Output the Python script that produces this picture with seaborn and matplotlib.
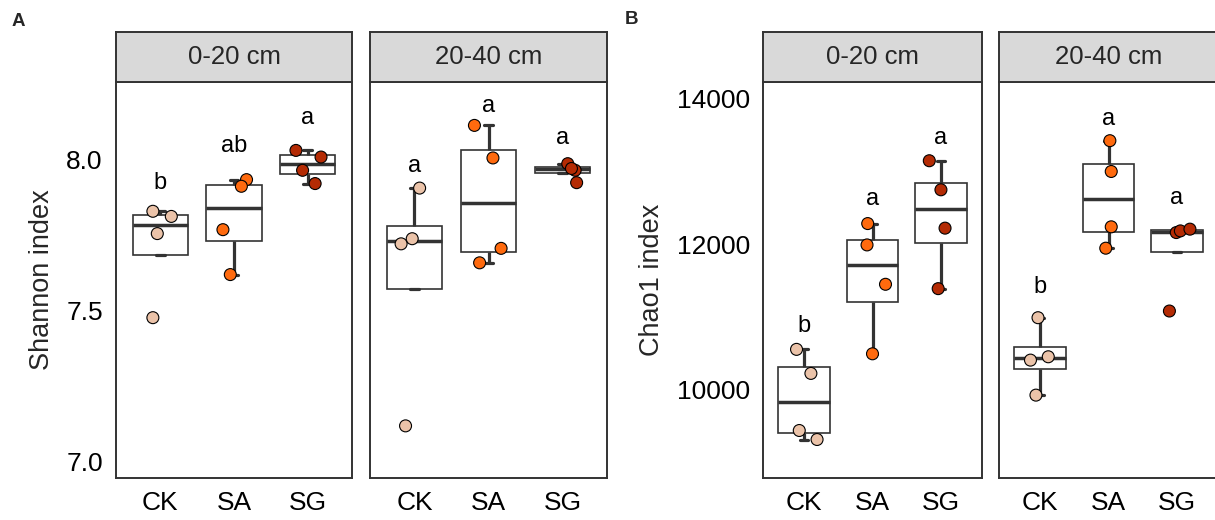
import numpy as np
import pandas as pd
import matplotlib
matplotlib.use("Agg")
import matplotlib.pyplot as plt
import seaborn as sns

treatments = ["CK", "SA", "SG"]
depths = ["0-20 cm", "20-40 cm"]
point_colors = {"CK": "#EBC3A9", "SA": "#FF6A0E", "SG": "#B42B04"}

# four replicates per treatment, in order CK, SA, SG
shannon_top = [7.829, 7.812, 7.755, 7.476,
               7.934, 7.912, 7.768, 7.619,
               8.031, 8.009, 7.965, 7.921]
shannon_sub = [7.906, 7.738, 7.721, 7.117,
               8.114, 8.006, 7.706, 7.658,
               7.987, 7.965, 7.924, 7.971]
chao1_top = [10552, 10221, 9435, 9311,
             12284, 11990, 11448, 10491,
             13149, 12749, 12221, 11388]
chao1_sub = [10988, 10450, 10404, 9922,
             13425, 13001, 12239, 11945,
             12160, 12183, 12207, 11080]

# horizontal jitter of the points (category units)
jit_shannon_top = [-0.10, 0.15, -0.04, -0.10, 0.17, 0.10, -0.15, -0.05, -0.16, 0.18, -0.07, 0.10]
jit_shannon_sub = [0.07, -0.03, -0.18, -0.12, -0.19, 0.06, 0.17, -0.12, 0.07, 0.17, 0.19, 0.12]
jit_chao1_top = [-0.11, 0.10, -0.07, 0.19, -0.07, -0.08, 0.19, 0.00, -0.17, 0.00, 0.06, -0.04]
jit_chao1_sub = [-0.03, 0.12, -0.14, -0.06, 0.02, 0.04, 0.04, -0.04, -0.01, 0.05, 0.19, -0.11]

# significance letters and their heights
letters_shannon_top = ["b", "ab", "a"]
letters_shannon_sub = ["a", "a", "a"]
letters_chao1_top = ["b", "a", "a"]
letters_chao1_sub = ["b", "a", "a"]
lety_shannon_top = [7.903, 8.027, 8.118]
lety_shannon_sub = [7.961, 8.160, 8.053]
lety_chao1_top = [10795, 12542, 13379]
lety_chao1_sub = [11324, 13645, 12560]

LINE = "#333333"
W, H = 1215, 520


def draw_facet(ax, values, jitter, letters, lety):
    df = pd.DataFrame({"treatment": np.repeat(treatments, 4),
                       "value": values, "jitter": jitter})
    df["pos"] = df["treatment"].map({t: i for i, t in enumerate(treatments)})
    df["x"] = df["pos"] + df["jitter"]
    sns.boxplot(data=df, x="pos", y="value", native_scale=True, orient="x",
                width=0.75, color="white", linecolor=LINE, linewidth=1.2,
                showfliers=False, whiskerprops=dict(linewidth=2.3),
                capprops=dict(linewidth=2.3), medianprops=dict(linewidth=2.5),
                capwidths=0.12, ax=ax)
    sns.scatterplot(data=df, x="x", y="value", hue="treatment", palette=point_colors,
                    s=74, edgecolor="black", linewidth=0.8, legend=False,
                    zorder=3, ax=ax)
    for i, (lab, ly) in enumerate(zip(letters, lety)):
        ax.text(i, ly, lab, ha="center", va="baseline", fontsize=17, color="black")
    ax.set_xlim(-0.6, 2.6)
    ax.set_xticks(range(3))
    ax.set_xticklabels(treatments)
    ax.set_xlabel("")
    ax.set_ylabel("")
    for sp in ax.spines.values():
        sp.set_visible(True)
        sp.set_color(LINE)
        sp.set_linewidth(1.4)
    ax.tick_params(axis="both", length=5.5, width=1.4, color=LINE,
                   labelsize=19, labelcolor="black", pad=4)
    ax.set_facecolor("white")


def add_strip(fig, rect, label):
    sax = fig.add_axes(rect)
    sax.set_facecolor("#D9D9D9")
    sax.set_xticks([])
    sax.set_yticks([])
    for sp in sax.spines.values():
        sp.set_color(LINE)
        sp.set_linewidth(1.4)
    sax.text(0.5, 0.5, label, ha="center", va="center", fontsize=18.5,
             transform=sax.transAxes)


def main():
    sns.set_style("white")
    plt.rcParams["font.family"] = ["Liberation Sans", "DejaVu Sans"]

    fig = plt.figure(figsize=(W / 100, H / 100), dpi=100)
    bottom = 1 - 478 / H
    height = 396 / H
    strip_b = 1 - 82 / H
    strip_h = 50 / H

    panels = [
        # left px, width px, values, jitter, letters, letter y, ylim, yticks, fmt
        (116, 236, shannon_top, jit_shannon_top, letters_shannon_top, lety_shannon_top,
         (6.944, 8.258), [7.0, 7.5, 8.0], "{:.1f}", depths[0], True),
        (370, 237, shannon_sub, jit_shannon_sub, letters_shannon_sub, lety_shannon_sub,
         (6.944, 8.258), [7.0, 7.5, 8.0], "{:.1f}", depths[1], False),
        (763, 219, chao1_top, jit_chao1_top, letters_chao1_top, lety_chao1_top,
         (8781, 14233), [10000, 12000, 14000], "{:.0f}", depths[0], True),
        (999, 219, chao1_sub, jit_chao1_sub, letters_chao1_sub, lety_chao1_sub,
         (8781, 14233), [10000, 12000, 14000], "{:.0f}", depths[1], False),
    ]
    for left, width, vals, jit, lets, ly, ylim, yticks, fmt, depth, show_y in panels:
        rect = [left / W, bottom, width / W, height]
        ax = fig.add_axes(rect)
        draw_facet(ax, vals, jit, lets, ly)
        ax.set_ylim(*ylim)
        if show_y:
            ax.set_yticks(yticks)
            ax.set_yticklabels([fmt.format(t) for t in yticks])
        else:
            ax.set_yticks([])
        add_strip(fig, [left / W, strip_b, width / W, strip_h], depth)

    fig.text(42 / W, 1 - 280 / H, "Shannon index", rotation=90,
             ha="center", va="center", fontsize=19.5)
    fig.text(652 / W, 1 - 280 / H, "Chao1 index", rotation=90,
             ha="center", va="center", fontsize=19.5)
    fig.text(12 / W, 1 - 21 / H, "A", ha="left", va="center",
             fontsize=13.5, fontweight="bold")
    fig.text(625 / W, 1 - 20 / H, "B", ha="left", va="center",
             fontsize=13.5, fontweight="bold")

    fig.savefig("out.png", dpi=100)


if __name__ == "__main__":
    main()
